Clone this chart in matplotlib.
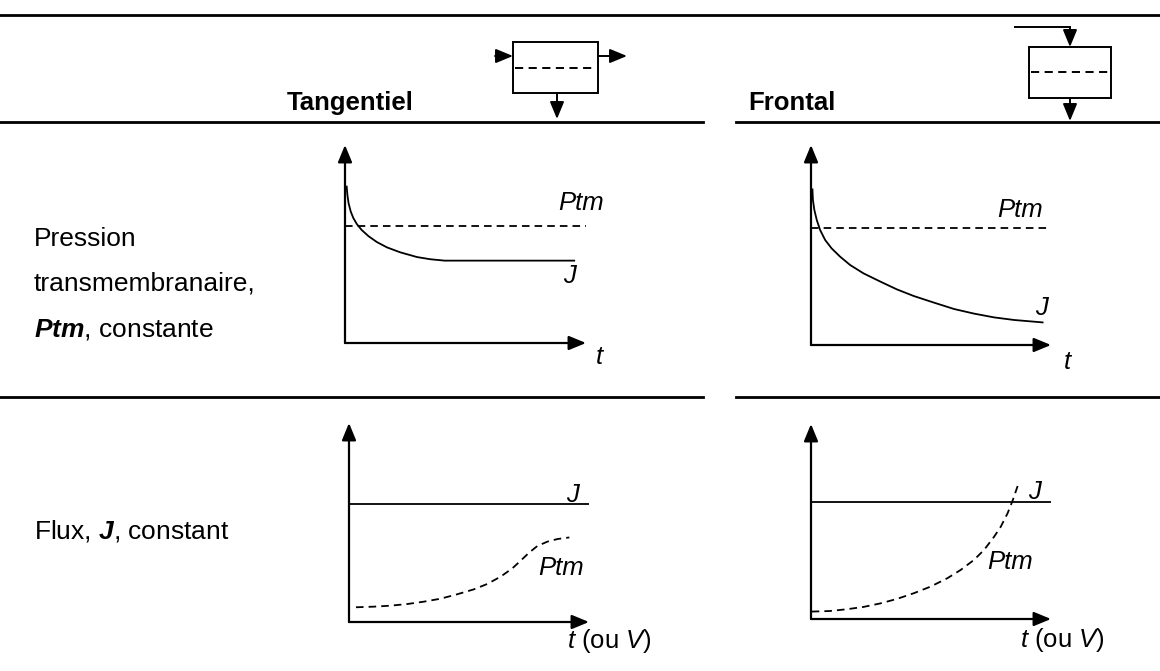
import matplotlib
matplotlib.use("Agg")
import matplotlib.pyplot as plt
from matplotlib.patches import Rectangle

plt.rcParams['font.family'] = ['Liberation Sans', 'DejaVu Sans']
plt.rcParams['mathtext.fontset'] = 'custom'
plt.rcParams['mathtext.rm'] = 'Liberation Sans'
plt.rcParams['mathtext.it'] = 'Liberation Sans:italic'
plt.rcParams['mathtext.bf'] = 'Liberation Sans:bold'
plt.rcParams['mathtext.bfit'] = 'Liberation Sans:italic:bold'

# ---------------- data (normalised 0..10 units within each small chart) -------------
col_titles = ["Tangentiel", "Frontal"]
row_labels = [["Pression", "transmembranaire,", r"$\mathbfit{Ptm}$, constante"],
              [r"Flux, $\mathbfit{J}$, constant"]]

# Tangentiel, Ptm constante
tp_ptm_level = 5.9
tp_j_t = [0.07, 0.10, 0.15, 0.24, 0.35, 0.49, 0.69, 0.97, 1.32, 1.74, 2.29, 2.99, 3.54, 4.13, 9.51]
tp_j_v = [7.90, 7.47, 7.05, 6.63, 6.30, 6.01, 5.71, 5.40, 5.10, 4.83, 4.58, 4.34, 4.23, 4.16, 4.16]

# Frontal, Ptm constante
fp_ptm_level = 5.85
fp_j_t = [0.06, 0.08, 0.14, 0.24, 0.38, 0.59, 0.86, 1.21, 1.63, 2.19, 2.89, 3.58, 4.28,
          5.12, 5.96, 6.79, 7.63, 8.47, 9.65]
fp_j_v = [7.78, 7.25, 6.75, 6.25, 5.75, 5.25, 4.83, 4.42, 4.00, 3.58, 3.17, 2.78, 2.45,
          2.12, 1.80, 1.57, 1.38, 1.25, 1.13]

# Tangentiel, J constant
tj_j_level = 5.93
tj_ptm_t = [0.29, 1.02, 1.72, 2.41, 3.11, 3.81, 4.50, 5.20, 5.76, 6.32, 6.81, 7.15, 7.50,
            7.85, 8.27, 8.69, 9.18]
tj_ptm_v = [0.74, 0.77, 0.82, 0.90, 1.02, 1.17, 1.39, 1.64, 1.91, 2.28, 2.70, 3.08, 3.48,
            3.82, 4.04, 4.17, 4.25]

# Frontal, J constant
fj_j_level = 6.0
fj_ptm_t = [0.03, 0.79, 1.49, 2.19, 2.89, 3.58, 4.28, 4.98, 5.68, 6.23, 6.79, 7.21, 7.63,
            7.91, 8.19, 8.40, 8.61]
fj_ptm_v = [0.38, 0.41, 0.50, 0.62, 0.80, 1.03, 1.32, 1.66, 2.09, 2.51, 3.03, 3.54, 4.22,
            4.74, 5.42, 6.07, 6.82]

W, H = 1160, 671
fig = plt.figure(figsize=(W / 100, H / 100), dpi=100)
bg = fig.add_axes([0, 0, 1, 1])
bg.set_xlim(0, W)
bg.set_ylim(H, 0)
bg.axis('off')

LW = 1.4
CLW = 1.3
FS = 18.5
FS_ROW = 19
K = 'black'
dash = (0, (4.2, 2.8))

def arrow(ax, x0, y0, x1, y1, lw=LW):
    ax.annotate('', xy=(x1, y1), xytext=(x0, y0),
                arrowprops=dict(arrowstyle='-|>,head_length=0.8,head_width=0.33',
                                mutation_scale=13, lw=lw, color=K,
                                shrinkA=0, shrinkB=0), annotation_clip=False)

# horizontal rules
bg.plot([0, W], [15, 15], color=K, lw=2)
for yy in (122, 397):
    bg.plot([0, 703], [yy, yy], color=K, lw=2)
    bg.plot([736, W], [yy, yy], color=K, lw=2)

# column titles
bg.text(287, 103, col_titles[0], fontsize=FS, fontweight='bold', va='center', ha='left')
bg.text(748, 103, col_titles[1], fontsize=FS, fontweight='bold', va='center', ha='left')

# tangential icon
bg.add_patch(Rectangle((513, 42), 85, 51, fill=False, lw=LW, ec=K))
bg.plot([515, 596], [68, 68], color=K, lw=LW, ls=dash)
arrow(bg, 495, 56, 513, 56)
arrow(bg, 598, 56, 627, 56)
arrow(bg, 557, 93, 557, 119)

# frontal icon
bg.add_patch(Rectangle((1029, 47), 82, 51, fill=False, lw=LW, ec=K))
bg.plot([1031, 1109], [72, 72], color=K, lw=LW, ls=dash)
bg.plot([1015, 1070], [27, 27], color=K, lw=LW)
arrow(bg, 1070, 27, 1070, 47)
arrow(bg, 1070, 98, 1070, 121)

# row labels
for i, s in enumerate(row_labels[0]):
    bg.text(34, 239 + 45 * i, s, fontsize=FS_ROW, va='center', ha='left')
bg.text(34, 531, row_labels[1][0], fontsize=FS_ROW, va='center', ha='left')

def chart(x0, y0, x1, y1):
    """Small chart: origin pixel (x0, y0), x arrow tip x1, y arrow tip y1."""
    ax = fig.add_axes([x0 / W, 1 - y0 / H, (x1 - x0) / W, (y0 - y1) / H])
    ax.set_xlim(0, 10)
    ax.set_ylim(0, 10)
    ax.axis('off')
    arrow(ax, 0, 0, 10, 0, lw=1.6)
    arrow(ax, 0, 0, 0, 10, lw=1.6)
    return ax

kw = dict(color=K, lw=CLW, solid_joinstyle='round', dash_capstyle='butt')

# Chart 1: tangential, constant Ptm
a1 = chart(345, 343, 586, 145)
a1.plot([0, 10], [tp_ptm_level, tp_ptm_level], ls=dash, **kw)
a1.plot(tp_j_t, tp_j_v, **kw)
a1.text(9.8, 7.05, 'Ptm', fontsize=FS, style='italic', ha='center', va='center')
a1.text(9.3, 3.4, 'J', fontsize=FS, style='italic', ha='center', va='center')
a1.text(10.55, -0.7, 't', fontsize=FS, style='italic', ha='center', va='center')

# Chart 2: frontal, constant Ptm
a2 = chart(811, 345, 1051, 145)
a2.plot([0, 10], [fp_ptm_level, fp_ptm_level], ls=dash, **kw)
a2.plot(fp_j_t, fp_j_v, **kw)
a2.text(8.7, 6.75, 'Ptm', fontsize=FS, style='italic', ha='center', va='center')
a2.text(9.6, 1.85, 'J', fontsize=FS, style='italic', ha='center', va='center')
a2.text(10.7, -0.85, 't', fontsize=FS, style='italic', ha='center', va='center')

# Chart 3: tangential, constant J
a3 = chart(349, 622, 589, 423)
a3.plot([0, 10], [tj_j_level, tj_j_level], **kw)
a3.plot(tj_ptm_t, tj_ptm_v, ls=dash, **kw)
a3.text(9.3, 6.4, 'J', fontsize=FS, style='italic', ha='center', va='center')
a3.text(8.85, 2.7, 'Ptm', fontsize=FS, style='italic', ha='center', va='center')
a3.text(9.1, -0.95, r'$\mathit{t}$ (ou $\mathit{V}$)', fontsize=FS, ha='left', va='center')

# Chart 4: frontal, constant J
a4 = chart(811, 619, 1051, 424)
a4.plot([0, 10], [fj_j_level, fj_j_level], **kw)
a4.plot(fj_ptm_t, fj_ptm_v, ls=dash, **kw)
a4.text(9.3, 6.5, 'J', fontsize=FS, style='italic', ha='center', va='center')
a4.text(8.3, 2.9, 'Ptm', fontsize=FS, style='italic', ha='center', va='center')
a4.text(8.7, -1.1, r'$\mathit{t}$ (ou $\mathit{V}$)', fontsize=FS, ha='left', va='center')

fig.savefig('out.png', dpi=100)
